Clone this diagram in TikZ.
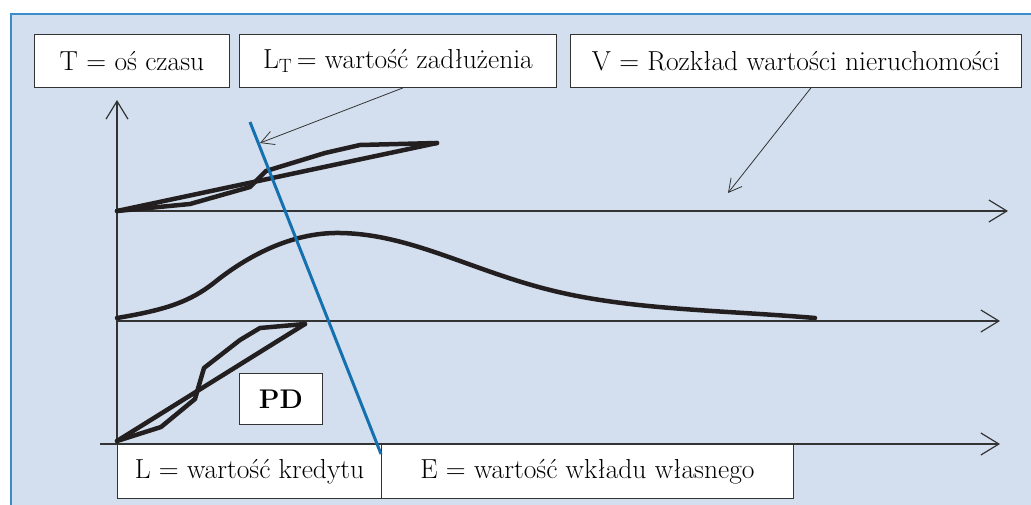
\documentclass[tikz,border=0pt]{standalone}
\usepackage{fontspec}
\usetikzlibrary{arrows.meta}
\definecolor{panel}{HTML}{D3DFEE}
\definecolor{panelborder}{HTML}{3A8CCB}
\definecolor{blueline}{HTML}{1570B0}
\definecolor{ink}{HTML}{231F20}
\definecolor{axisc}{HTML}{333333}
\begin{document}
\begin{tikzpicture}[x=1pt,y=-1pt,
  lbl/.style={draw=axisc, line width=0.9pt, fill=white, inner sep=0pt, anchor=north west,
    font=\fontsize{27.5}{31}\selectfont},
  axis/.style={draw=axisc, line width=1.2pt, -{Straight Barb[length=18pt,width=22pt,line width=1.2pt]}},
  annot/.style={draw=axisc, line width=0.8pt, -{Straight Barb[length=13pt,width=14pt,line width=0.8pt]}},
  thick curve/.style={draw=ink, line width=4.5pt, line join=round, line cap=round},
  bluecut/.style={draw=blueline, line width=3pt}]
\useasboundingbox (0,0) rectangle (1031,505);
\clip (0,0) rectangle (1031,505);
\draw[fill=panel, draw=panelborder, line width=1.2pt] (11,14) rectangle (1045,520);

% label boxes
\node[lbl, minimum width=195pt, minimum height=53pt] (T) at (34,34) {T = oś czasu};
\node[lbl, minimum width=317pt, minimum height=53pt] (LT) at (239,34) {L\textsubscript{T}\,= wartość zadłużenia};
\node[lbl, minimum width=451pt, minimum height=53pt] (V) at (570,34) {V = Rozkład wartości nieruchomości};

% axes
\coordinate (O) at (117,444);
\coordinate (Ytop) at (117,100);
\coordinate (A1s) at (117,211);
\coordinate (A1e) at (1008,211);
\coordinate (A2s) at (117,321);
\coordinate (A2e) at (1000,321);
\coordinate (A3s) at (100,444);
\coordinate (A3e) at (1000,444);
\draw[axis] (O) -- (Ytop);
\draw[axis] (A1s) -- (A1e);
\draw[axis] (A2s) -- (A2e);
\draw[axis] (A3s) -- (A3e);

% bottom boxes
\node[lbl, minimum width=264pt, minimum height=54pt] (L) at (117,444) {L = wartość kredytu};
\node[lbl, minimum width=412pt, minimum height=54pt] (E) at (381,444) {E = wartość wkładu własnego};

% top curve (debt value)
\draw[thick curve] (117,211) -- (437,143);
\draw[thick curve] (117,211) -- (190,204) -- (250,187) -- (266,171) -- (325,153) -- (360,145) -- (437,143);

% middle curve (property value distribution)
\draw[thick curve] (117,318) .. controls (165,310) and (190,302) .. (215,282)
  .. controls (245,258) and (290,232) .. (340,233)
  .. controls (410,234) and (470,270) .. (550,290)
  .. controls (630,310) and (720,310) .. (815,318);

% bottom curve (PD)
\draw[thick curve] (117,441) -- (305,324);
\draw[thick curve] (117,441) -- (161,427) -- (195,399) -- (204,368) -- (240,340) -- (260,328) -- (305,324);

\node[lbl, minimum width=83pt, minimum height=51pt, font=\fontsize{27}{31}\selectfont\bfseries] (PD) at (239,373) {PD};

% blue cut line
\coordinate (B1) at (250,122);
\coordinate (B2) at (381,454);
\draw[bluecut] (B1) -- (B2);

% annotation arrows
\coordinate (LTtip) at (260,143);
\coordinate (Vtip) at (728,193);
\draw[annot] ([xshift=5pt]LT.south) -- (LTtip);
\draw[annot] ([xshift=15pt]V.south) -- (Vtip);
\end{tikzpicture}
\end{document}
